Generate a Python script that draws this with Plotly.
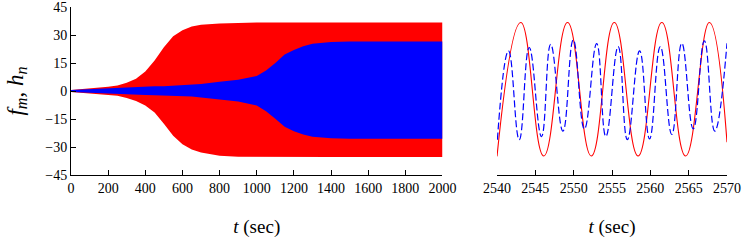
import plotly.graph_objects as go

# ---- Left panel: oscillation envelopes ----
t_env = [0, 100, 200, 250, 300, 350, 400, 450, 500, 550, 600, 650, 700, 800, 900,
         1000, 1050, 1100, 1150, 1200, 1250, 1300, 1400, 1500, 1600, 1800, 2000]
f_upper = [0.5, 1.3, 2.3, 3.0, 4.4, 6.5, 10.5, 16.3, 23.5, 29.3, 32.6, 34.6, 35.5, 36.2, 36.6,
           36.7, 36.7, 36.7, 36.7, 36.7, 36.7, 36.7, 36.7, 36.7, 36.7, 36.7, 36.7]
f_lower = [-0.5, -1.2, -2.0, -2.6, -3.8, -5.3, -7.8, -11.5, -17.5, -24.0, -28.5, -31.3, -33.0, -34.7, -35.2,
           -35.3, -35.3, -35.3, -35.3, -35.3, -35.3, -35.3, -35.3, -35.3, -35.3, -35.3, -35.3]
h_upper = [0.5, 1.0, 1.5, 1.7, 2.0, 2.2, 2.4, 2.5, 2.6, 2.8, 3.0, 3.3, 3.8, 5.0, 6.0,
           8.0, 11.0, 15.0, 19.5, 22.0, 24.0, 25.3, 26.2, 26.5, 26.5, 26.5, 26.5]
h_lower = [-0.5, -1.0, -1.4, -1.6, -1.8, -2.0, -2.2, -2.3, -2.4, -2.5, -2.7, -3.0, -3.5, -4.6, -5.6,
           -7.8, -10.8, -14.8, -19.2, -21.6, -23.3, -24.5, -25.3, -25.6, -25.6, -25.6, -25.6]

# ---- Right panel: extrema of f_m (solid red) and h_n (dashed blue) ----
t_f = [2540.0, 2543.1, 2546.1, 2549.2, 2552.3, 2555.3, 2558.4, 2561.5, 2564.6, 2567.7, 2570.0]
f_val = [-35.0, 36.7, -34.8, 36.7, -34.8, 36.7, -34.8, 36.7, -34.8, 36.7, -27.4]
t_h = [2540.05, 2541.5, 2542.9, 2544.2, 2545.8, 2547.0, 2548.6, 2549.95, 2551.4, 2553.0, 2554.2,
       2555.8, 2557.0, 2558.6, 2559.9, 2561.3, 2562.8, 2564.1, 2565.6, 2567.05, 2568.4, 2570.0]
h_val = [-26.1, 21.5, -26.1, 23.3, -24.4, 25.0, -21.5, 27.4, -20.3, 25.4, -24.4,
         23.8, -26.1, 21.5, -25.6, 23.8, -23.3, 25.6, -20.3, 26.8, -21.5, 25.6]

y_ticks = [-45, -30, -15, 0, 15, 30, 45]
x1_ticks = [0, 200, 400, 600, 800, 1000, 1200, 1400, 1600, 1800, 2000]
x2_ticks = [2540, 2545, 2550, 2555, 2560, 2565, 2570]

RED = "#ff0000"
BLUE = "#0000ff"
FONT = "Times New Roman, Liberation Serif, DejaVu Serif, serif"

fig = go.Figure()
fig.add_trace(go.Scatter(x=t_env, y=f_upper, mode="lines", line=dict(width=0, color=RED),
                         showlegend=False, hoverinfo="skip", xaxis="x", yaxis="y"))
fig.add_trace(go.Scatter(x=t_env, y=f_lower, mode="lines", line=dict(width=0, color=RED),
                         fill="tonexty", fillcolor=RED, showlegend=False, xaxis="x", yaxis="y"))
fig.add_trace(go.Scatter(x=t_env, y=h_upper, mode="lines", line=dict(width=0, color=BLUE),
                         showlegend=False, hoverinfo="skip", xaxis="x", yaxis="y"))
fig.add_trace(go.Scatter(x=t_env, y=h_lower, mode="lines", line=dict(width=0, color=BLUE),
                         fill="tonexty", fillcolor=BLUE, showlegend=False, xaxis="x", yaxis="y"))
fig.add_trace(go.Scatter(x=t_f, y=f_val, mode="lines",
                         line=dict(color=RED, width=1.1, shape="spline", smoothing=1.3),
                         showlegend=False, xaxis="x2", yaxis="y2"))
fig.add_trace(go.Scatter(x=t_h, y=h_val, mode="lines",
                         line=dict(color=BLUE, width=1.2, dash="7px,3px", shape="spline", smoothing=1.3),
                         showlegend=False, xaxis="x2", yaxis="y2"))

axis_common = dict(showline=True, linecolor="black", linewidth=1, ticks="inside",
                   ticklen=5, tickcolor="black", tickwidth=1, showgrid=False, zeroline=False,
                   ticklabeloverflow="allow", automargin=False,
                   tickfont=dict(family=FONT, size=14, color="black"))

fig.update_layout(
    width=746, height=252,
    margin=dict(l=71, r=19, t=7, b=77, autoexpand=False),
    paper_bgcolor="white", plot_bgcolor="white",
    font=dict(family=FONT, color="black"),
    xaxis=dict(domain=[0, 0.5663], range=[0, 2000], tickvals=x1_ticks, anchor="y",
               title=dict(text="<i>t</i> (sec)", font=dict(family=FONT, size=19, color="black"),
                          standoff=24),
               **axis_common),
    yaxis=dict(domain=[0, 1], range=[-45, 45], tickvals=y_ticks, anchor="x", **axis_common),
    xaxis2=dict(domain=[0.6494, 1], range=[2540, 2570], tickvals=x2_ticks, anchor="y2",
                title=dict(text="<i>t</i> (sec)", font=dict(family=FONT, size=19, color="black"),
                           standoff=24),
                **axis_common),
    yaxis2=dict(domain=[0, 1], range=[-45, 45], anchor="x2", visible=False),
    annotations=[dict(text="<i>f<sub>m</sub></i>, <i>h<sub>n</sub></i>", textangle=-90,
                      xref="paper", yref="paper", x=-0.083, y=0.5, xanchor="center", yanchor="middle",
                      showarrow=False, font=dict(family=FONT, size=23, color="black"))],
)

fig.write_html("out.html")
